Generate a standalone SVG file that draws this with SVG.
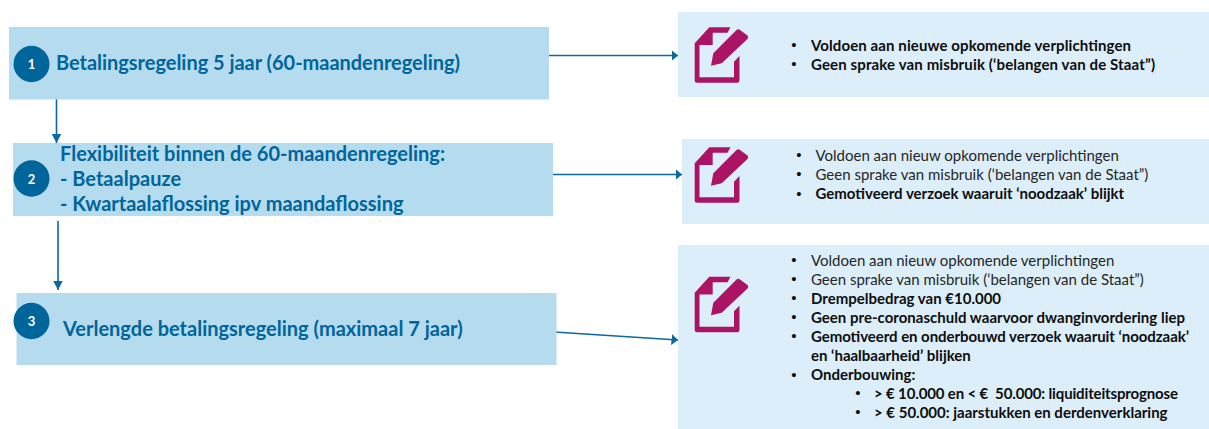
<svg xmlns="http://www.w3.org/2000/svg" width="1209" height="429" viewBox="0 0 1209 429">
<style>
text{font-family:Lato,"Open Sans",sans-serif}
.box{fill:#b5dbef}
.panel{fill:#dceef9}
.badge{fill:#00659b}
.num{fill:#fff;font-size:13px;font-weight:700;text-anchor:middle}
.title{fill:#00659b;font-size:20px;font-weight:700}
.r{fill:#262626;font-size:15px}
.b{fill:#0d0d0d;font-size:15px;font-weight:700}
.bu{fill:#0d0d0d;font-family:"Liberation Sans",sans-serif;font-size:15px;text-anchor:middle}
.line{stroke:#0a6a9d;stroke-width:1.6;fill:none}
.h{marker-end:url(#arrow-h)}
.v{marker-end:url(#arrow-v)}
.icon{fill:#ab1464}
</style>
<defs>
<marker id="arrow-h" markerUnits="userSpaceOnUse" markerWidth="7" markerHeight="11" refX="6.500" refY="5.500" orient="auto"><path d="M0 0L6.500 5.500L0 11Z" fill="#0a6a9d"/></marker>
<marker id="arrow-v" markerUnits="userSpaceOnUse" markerWidth="10" markerHeight="10" refX="9.500" refY="5" orient="auto"><path d="M0 0L9.500 5L0 10Z" fill="#0a6a9d"/></marker>
<g id="note">
<path class="icon" d="M694.700 43.300L709.300 27.300H730.500L727.500 32.700H712.700V45H699.500V77.300H734V61.700L739.500 56V80.500Q739.500 82.700 737.300 82.700H697Q694.700 82.700 694.700 80.500Z"/>
<path class="icon" d="M713.300 53.300L736.500 30Q738.300 28.500 740 30L747.500 35.500Q749 37.300 747.500 39L721.700 63.300L711 65.700Z"/>
</g>
</defs>
<g id="connectors">
<path class="line h" d="M549 55.500H678"/>
<path class="line h" d="M549 174.500H682"/>
<path class="line h" d="M554 332L678 340"/>
<path class="line v" d="M56.500 91V143"/>
<path class="line v" d="M58 221V290"/>
</g>
<g id="node-1">
<rect class="box" x="9" y="27" width="540" height="72.500"/>
<ellipse class="badge" cx="31.500" cy="64" rx="18" ry="18.200"/>
<text class="num" x="31.500" y="69">1</text>
<text class="title" x="56" y="70" textLength="404">Betalingsregeling 5 jaar (60-maandenregeling)</text>
</g>
<g id="node-2">
<rect class="box" x="13" y="143" width="540" height="73"/>
<ellipse class="badge" cx="31.500" cy="178.500" rx="18" ry="18.200"/>
<text class="num" x="31.500" y="184">2</text>
<text class="title" x="60" y="161">Flexibiliteit binnen de 60-maandenregeling:</text>
<text class="title" x="60" y="186">- Betaalpauze</text>
<text class="title" x="60" y="211">- Kwartaalaflossing ipv maandaflossing</text>
</g>
<g id="node-3">
<rect class="box" x="16.500" y="293" width="540" height="72"/>
<ellipse class="badge" cx="31.500" cy="321" rx="18" ry="18.200"/>
<text class="num" x="31.500" y="326">3</text>
<text class="title" x="63" y="336">Verlengde betalingsregeling (maximaal 7 jaar)</text>
</g>
<g id="panel-1">
<rect class="panel" x="678" y="12" width="531" height="85"/>
<use href="#note"/>
<text class="bu" x="794" y="50">•</text><text class="b" x="811" y="50.500" textLength="320">Voldoen aan nieuwe opkomende verplichtingen</text>
<text class="bu" x="794" y="69">•</text><text class="b" x="811" y="69.500" textLength="344">Geen sprake van misbruik (‘belangen van de Staat”)</text>
</g>
<g id="panel-2">
<rect class="panel" x="682" y="139" width="527" height="85"/>
<use href="#note" y="120"/>
<text class="bu" x="799" y="160">•</text><text class="r" x="815.500" y="160.500">Voldoen aan nieuw opkomende verplichtingen</text>
<text class="bu" x="799" y="179">•</text><text class="r" x="815.500" y="179.500">Geen sprake van misbruik (‘belangen van de Staat”)</text>
<text class="bu" x="799" y="199">•</text><text class="b" x="815.500" y="199">Gemotiveerd verzoek waaruit ‘noodzaak’ blijkt</text>
</g>
<g id="panel-3">
<rect class="panel" x="678" y="245" width="531" height="184"/>
<use href="#note" y="249.500"/>
<text class="bu" x="794" y="265">•</text><text class="r" x="811" y="265.500">Voldoen aan nieuw opkomende verplichtingen</text>
<text class="bu" x="794" y="284">•</text><text class="r" x="811" y="284.500">Geen sprake van misbruik (‘belangen van de Staat”)</text>
<text class="bu" x="794" y="303">•</text><text class="b" x="811" y="304">Drempelbedrag van €10.000</text>
<text class="bu" x="794" y="322">•</text><text class="b" x="811" y="322.500" textLength="374">Geen pre-coronaschuld waarvoor dwanginvordering liep</text>
<text class="bu" x="794" y="341">•</text><text class="b" x="811" y="341.500" textLength="378">Gemotiveerd en onderbouwd verzoek waaruit ‘noodzaak’</text>
<text class="b" x="811" y="360.500">en ‘haalbaarheid’ blijken</text>
<text class="bu" x="794" y="380">•</text><text class="b" x="811" y="380">Onderbouwing:</text>
<text class="bu" x="858" y="398">•</text><text class="b" x="874" y="398.500" xml:space="preserve" textLength="304">&gt; € 10.000 en &lt; €  50.000: liquiditeitsprognose</text>
<text class="bu" x="858" y="417">•</text><text class="b" x="874" y="417.500">&gt; € 50.000: jaarstukken en derdenverklaring</text>
</g>
</svg>
